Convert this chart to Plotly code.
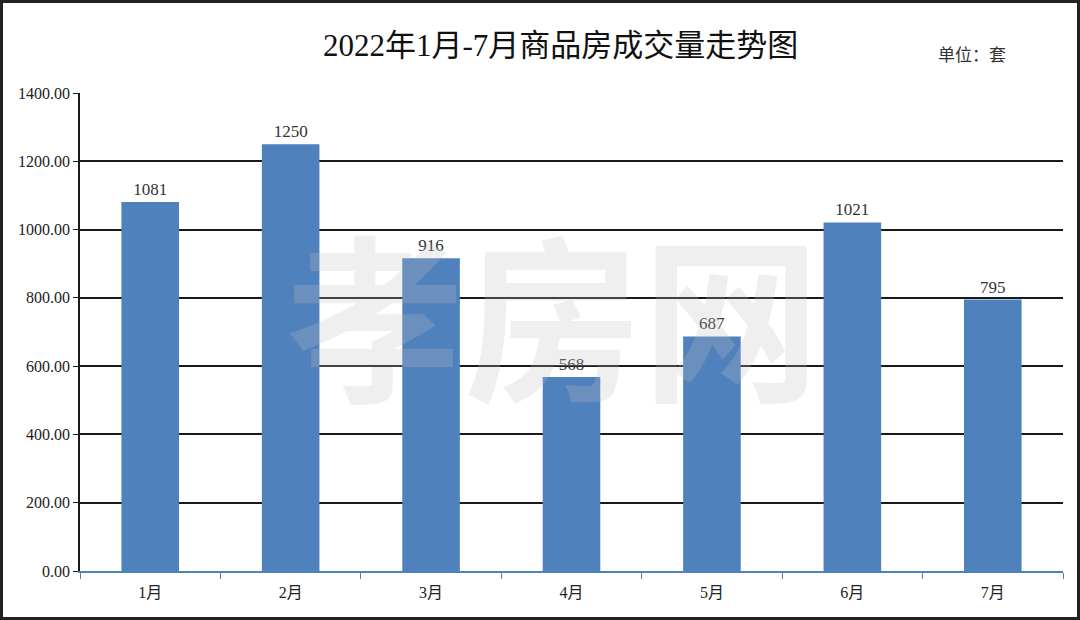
import plotly.graph_objects as go

months = ["1月", "2月", "3月", "4月", "5月", "6月", "7月"]
volumes = [1081, 1250, 916, 568, 687, 1021, 795]
y_ticks = [0, 200, 400, 600, 800, 1000, 1200, 1400]

TITLE = "2022年1月-7月商品房成交量走势图"
UNIT = "单位：套"
WATERMARK = "孝房网"

BAR = "#4f81bd"
SERIF = "Liberation Serif, Noto Sans CJK SC, serif"
SANS = "Noto Sans CJK SC, sans-serif"

W, H = 1080, 620
M = dict(l=80, r=17, t=93, b=49)
pw = W - M["l"] - M["r"]
ph = H - M["t"] - M["b"]


def px(x):
    return (x - M["l"]) / pw


def py(y):
    return 1 - (y - M["t"]) / ph


fig = go.Figure()
fig.add_trace(go.Bar(
    x=months, y=volumes, marker=dict(color=BAR, line=dict(width=0)),
    text=[str(v) for v in volumes], textposition="outside", cliponaxis=False,
    textfont=dict(family=SERIF, size=17, color="#333333"),
))

fig.update_layout(
    width=W, height=H, margin=M,
    paper_bgcolor="white", plot_bgcolor="white",
    bargap=0.59, showlegend=False,
)
fig.update_yaxes(
    range=[0, 1400], tickvals=y_ticks, tickformat=".2f",
    showgrid=True, gridcolor="#1a1a1a", gridwidth=1.5,
    showline=True, linecolor="#1a1a1a", linewidth=1.5,
    ticks="outside", ticklen=5, tickcolor="#1a1a1a",
    tickfont=dict(family=SERIF, size=16, color="#222222"),
    zeroline=False,
)
fig.update_xaxes(
    showline=True, linecolor=BAR, linewidth=1.5,
    ticks="outside", tickson="boundaries", ticklen=6, tickcolor=BAR,
    ticklabelstandoff=6,
    tickfont=dict(family=SERIF, size=16, color="#222222"),
)

# title and unit
fig.add_annotation(text=TITLE, xref="paper", yref="paper", x=px(560), y=py(46),
                   showarrow=False, xanchor="center", yanchor="middle",
                   font=dict(family=SERIF, size=31, color="#111111"))
fig.add_annotation(text=UNIT, xref="paper", yref="paper", x=px(972), y=py(53),
                   showarrow=False, xanchor="center", yanchor="middle",
                   font=dict(family=SANS, size=17, color="#333333"))

# watermark (sits over the bars, as in the source image)
fig.add_annotation(text=WATERMARK, xref="paper", yref="paper", x=px(553), y=py(310),
                   showarrow=False, xanchor="center", yanchor="middle",
                   font=dict(family=SANS, size=178, weight="bold",
                             color="rgba(190,190,190,0.25)"))

# outer frame
fig.add_shape(type="rect", xref="paper", yref="paper", layer="above",
              x0=px(1.5), x1=px(W - 1.5), y0=py(H - 1.5), y1=py(1.5),
              line=dict(color="#222222", width=3))

fig.write_html("out.html", config={"displayModeBar": False},
               post_script="document.body.style.margin='0';")
